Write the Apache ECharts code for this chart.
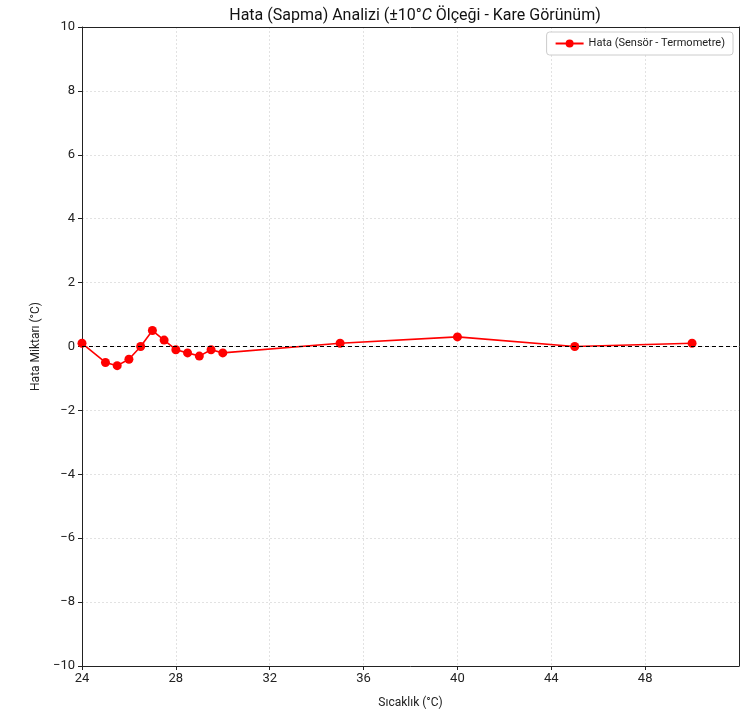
<!DOCTYPE html>
<html>
<head>
<meta charset="utf-8">
<script src="https://cdn.jsdelivr.net/npm/echarts@6/dist/echarts.min.js"></script>
<style>
  html, body { margin: 0; padding: 0; background: #fff; }
  #chart { width: 747px; height: 714px; }
</style>
</head>
<body>
<div id="chart"></div>
<script>
// sıcaklık noktaları ve hata değerleri
const temps = [24, 25, 25.5, 26, 26.5, 27, 27.5, 28, 28.5, 29, 29.5, 30, 35, 40, 45, 50]
const errors = [0.1, -0.5, -0.6, -0.4, 0, 0.5, 0.2, -0.1, -0.2, -0.3, -0.1, -0.2, 0.1, 0.3, 0, 0.1]
const seriesName = 'Hata (Sensör - Termometre)'

const font = 'Roboto, "Noto Sans", sans-serif'
const myChart = echarts.init(document.getElementById('chart'), null, { renderer: 'canvas' })

// sadece çerçeve için kullanılan eksen (üst / sağ)
const frameAxis = {
  axisLine: { show: true, onZero: false, lineStyle: { color: '#222' } },
  axisTick: { show: false },
  axisLabel: { show: false },
  splitLine: { show: false },
}

const option = {
  animation: false,
  textStyle: { fontFamily: font },
  title: {
    text: 'Hata (Sapma) Analizi (±10°{i|C} Ölçeği - Kare Görünüm)',
    left: 410,
    textAlign: 'center',
    top: 3,
    textStyle: {
      fontSize: 16,
      fontWeight: 'normal',
      color: '#111',
      rich: { i: { fontSize: 16, fontStyle: 'italic', color: '#111' } },
    },
  },
  legend: {
    right: 14,
    top: 32,
    padding: [6, 8],
    backgroundColor: '#fff',
    borderColor: '#ccc',
    borderWidth: 1,
    borderRadius: 3,
    itemWidth: 28,
    itemHeight: 10,
    textStyle: { fontSize: 11, color: '#222' },
    data: [seriesName],
  },
  grid: {
    left: 82,
    right: 8,
    top: 27,
    bottom: 46,
  },
  xAxis: [
    {
      type: 'value',
      min: 24,
      max: 52,
      interval: 4,
      name: 'Sıcaklık (°C)',
      nameLocation: 'middle',
      nameGap: 31,
      nameTextStyle: { fontSize: 12, color: '#222' },
      axisLine: { show: true, onZero: false, lineStyle: { color: '#222' } },
      axisTick: { show: true, length: 4, lineStyle: { color: '#222' } },
      axisLabel: { fontSize: 13, color: '#222', margin: 6, showMaxLabel: false },
      splitLine: { show: true, lineStyle: { color: '#e2e2e2', type: [2, 2] } },
    },
    Object.assign({ type: 'value', position: 'top', min: 24, max: 52 }, frameAxis),
  ],
  yAxis: [
    {
      type: 'value',
      min: -10,
      max: 10,
      interval: 2,
      name: 'Hata Miktarı (°C)',
      nameLocation: 'middle',
      nameGap: 40,
      nameTextStyle: { fontSize: 12, color: '#222' },
      axisLine: { show: true, onZero: false, lineStyle: { color: '#222' } },
      axisTick: { show: true, length: 4, lineStyle: { color: '#222' } },
      axisLabel: {
        fontSize: 13,
        color: '#222',
        margin: 7,
        formatter: (v) => String(v).replace('-', '\u2212'),
      },
      splitLine: { show: true, lineStyle: { color: '#e2e2e2', type: [2, 2] } },
    },
    Object.assign({ type: 'value', position: 'right', min: -10, max: 10 }, frameAxis),
  ],
  series: [
    {
      name: seriesName,
      type: 'line',
      data: temps.map((t, i) => [t, errors[i]]),
      symbol: 'circle',
      symbolSize: 9,
      itemStyle: { color: '#ff0000' },
      lineStyle: { color: '#ff0000', width: 1.6 },
      markLine: {
        silent: true,
        symbol: 'none',
        label: { show: false },
        lineStyle: { color: '#000', type: [4, 3], width: 1.1 },
        data: [{ yAxis: 0 }],
      },
      z: 3,
    },
  ],
}

myChart.setOption(option)
</script>
</body>
</html>
